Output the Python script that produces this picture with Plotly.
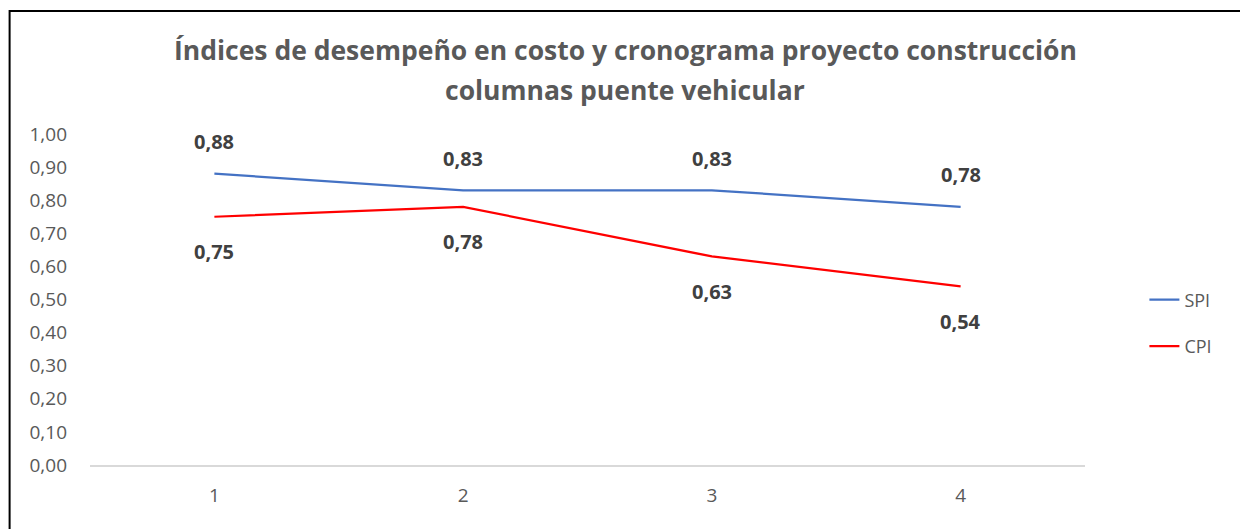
import plotly.graph_objects as go

categories = [1, 2, 3, 4]
spi = [0.88, 0.83, 0.83, 0.78]
cpi = [0.75, 0.78, 0.63, 0.54]
spi_labels = ["0,88", "0,83", "0,83", "0,78"]
cpi_labels = ["0,75", "0,78", "0,63", "0,54"]
ytick_vals = [i / 10 for i in range(11)]
title_lines = ["Índices de desempeño en costo y cronograma proyecto construcción",
               "columnas puente vehicular"]

FONT = "Open Sans"
GRAY = "#595959"

fig = go.Figure()
fig.add_trace(go.Scatter(x=categories, y=spi, mode="lines", name="SPI", legendgroup="a",
                         line=dict(color="#4472C4", width=2.25)))
fig.add_trace(go.Scatter(x=categories, y=cpi, mode="lines", name="CPI", legendgroup="b",
                         line=dict(color="#FF0000", width=2.25)))

for x, y, t in zip(categories, spi, spi_labels):
    fig.add_annotation(x=x, y=y, text=f"<b>{t}</b>", showarrow=False,
                       yshift=32, font=dict(family=FONT, size=20, color="#404040"))
for x, y, t in zip(categories, cpi, cpi_labels):
    fig.add_annotation(x=x, y=y, text=f"<b>{t}</b>", showarrow=False,
                       yshift=-35, font=dict(family=FONT, size=20, color="#404040"))

for yy, line in zip([1.2538, 1.1329], title_lines):
    fig.add_annotation(x=0.5377, y=yy, xref="paper", yref="paper", text=f"<b>{line}</b>",
                       showarrow=False, xanchor="center", yanchor="middle",
                       font=dict(family=FONT, size=26.5, color=GRAY))

fig.add_shape(type="rect", xref="paper", yref="paper",
              x0=-0.0808, x1=1.1571, y0=-0.5, y1=1.3716,
              line=dict(color="black", width=2), fillcolor="rgba(0,0,0,0)", layer="below")

fig.update_layout(
    width=1240, height=521,
    margin=dict(l=81.5, r=162.5, t=126, b=64),
    paper_bgcolor="white", plot_bgcolor="white",
    separators=",.",
    font=dict(family=FONT, color=GRAY, size=15),
    legend=dict(x=1.0597, y=0.429, xanchor="left", yanchor="middle",
                font=dict(family=FONT, size=18, color=GRAY),
                tracegroupgap=20,
                bgcolor="rgba(0,0,0,0)"),
    showlegend=True,
)
fig.update_xaxes(range=[0.5, 4.5], tickvals=categories, ticktext=[str(c) for c in categories],
                 showgrid=False, zeroline=False, showline=True, linecolor="#D9D9D9", linewidth=1.5,
                 ticks="", ticklabelstandoff=12, tickfont=dict(family=FONT, size=19, color=GRAY))
fig.update_yaxes(range=[0, 1.0], tickvals=ytick_vals, tickformat=".2f",
                 showgrid=False, zeroline=False, showline=False,
                 ticks="", ticklabelstandoff=22, tickfont=dict(family=FONT, size=19, color=GRAY))

fig.write_html("out.html")
